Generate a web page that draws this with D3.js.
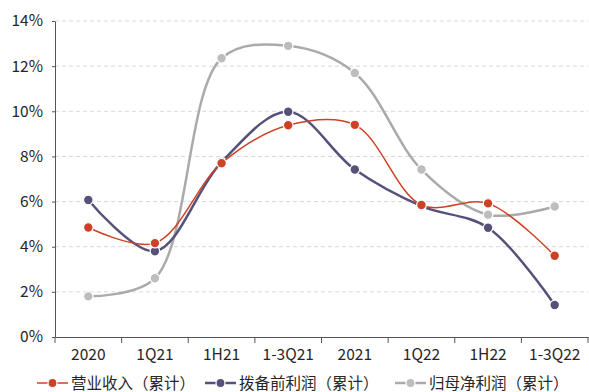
<!DOCTYPE html>
<html><head><meta charset="utf-8">
<script src="https://cdn.jsdelivr.net/npm/d3@7"></script>
<style>body{margin:0;background:#fff}svg{display:block}text{font-family:"Noto Sans CJK SC","Noto Sans",sans-serif}</style>
</head><body><svg id="c" width="589" height="392"></svg>
<script>
const categories = ["2020","1Q21","1H21","1-3Q21","2021","1Q22","1H22","1-3Q22"];
const revenue = [4.85, 4.16, 7.7, 9.38, 9.4, 5.85, 5.92, 3.6];
const ppop = [6.07, 3.8, 7.75, 9.98, 7.42, 5.8, 4.84, 1.42];
const netProfit = [1.8, 2.6, 12.35, 12.9, 11.7, 7.42, 5.42, 5.78];
const seriesNames = ["营业收入（累计）","拨备前利润（累计）","归母净利润（累计）"];
const yTicks = [0,2,4,6,8,10,12,14];

const svg = d3.select("#c");
const x = d3.scaleBand().domain(categories).range([55, 588]);
const y = d3.scaleLinear().domain([0, 14]).range([337, 21]);

// grid
svg.append("g").selectAll("line").data(yTicks.filter(d=>d>0)).join("line")
  .attr("x1", 55).attr("x2", 588).attr("y1", d=>y(d)).attr("y2", d=>y(d))
  .attr("stroke", "#d9d9d9").attr("stroke-dasharray", "4,3").attr("stroke-width", 1);

const yAxis = svg.append("g").attr("transform","translate(55,0)")
  .call(d3.axisLeft(y).tickValues(yTicks).tickFormat(d=>d+"%").tickSize(3).tickSizeOuter(0));
yAxis.select(".domain").attr("stroke","#555");
yAxis.selectAll(".tick line").attr("stroke","#555");
yAxis.selectAll("text").attr("font-size",15.5).attr("fill","#262626").attr("x",-12);

const xAxis = svg.append("g").attr("transform","translate(0,337)")
  .call(d3.axisBottom(x).tickSize(0).tickSizeOuter(0));
xAxis.select(".domain").attr("stroke","#555");
xAxis.selectAll("text").attr("font-size",15.5).attr("fill","#262626").attr("dy","1.3em");
// band boundary ticks
const bounds = categories.map(c=>x(c)).concat([x.range()[1]]);
xAxis.selectAll(".bt").data(bounds).join("line").attr("class","bt")
  .attr("x1",d=>d).attr("x2",d=>d).attr("y1",0).attr("y2",6).attr("stroke","#555");

const series = [
  {name: seriesNames[0], values: revenue, color: "#cc4226", marker: "#cc4226", w: 1.5},
  {name: seriesNames[1], values: ppop, color: "#57517a", marker: "#57517a", w: 2.5},
  {name: seriesNames[2], values: netProfit, color: "#aaaaaa", marker: "#bdbdbd", w: 2.5}
];
const cx = c => x(c) + x.bandwidth()/2;
const line = d3.line().x((d,i)=>cx(categories[i])).y(d=>y(d)).curve(d3.curveCatmullRom.alpha(0.5));

series.slice().reverse().forEach(s=>{
  svg.append("path").attr("d", line(s.values)).attr("fill","none")
    .attr("stroke", s.color).attr("stroke-width", s.w);
  svg.append("g").selectAll("circle").data(s.values).join("circle")
    .attr("cx",(d,i)=>cx(categories[i])).attr("cy",d=>y(d)).attr("r",4.8)
    .attr("fill", s.marker).attr("stroke","#fff").attr("stroke-width",1.2);
});

// legend
const legX = [37, 205, 395];
const lg = svg.append("g");
series.forEach((s,i)=>{
  const g = lg.append("g").attr("transform",`translate(${legX[i]},383)`);
  g.append("line").attr("x1",0).attr("x2",31).attr("y1",0).attr("y2",0)
    .attr("stroke", s.color).attr("stroke-width", s.w);
  g.append("circle").attr("cx",15.5).attr("cy",0).attr("r",4.5)
    .attr("fill", s.marker).attr("stroke","#fff").attr("stroke-width",1.2);
  g.append("text").attr("x",34).attr("y",0).attr("dy","0.36em")
    .attr("font-size",15.5).attr("fill","#262626").text(s.name);
});
</script></body></html>
